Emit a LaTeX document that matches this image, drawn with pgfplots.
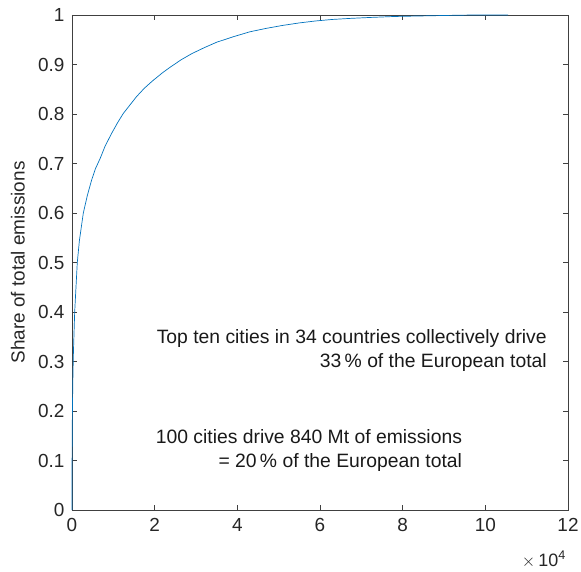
\documentclass[border=0pt]{standalone}
\usepackage{pgfplots}
\pgfplotsset{compat=1.18}
\usepackage{fontspec}
\setmainfont{Liberation Sans}
\definecolor{mblue}{rgb}{0,0.447,0.741}
\definecolor{axgray}{rgb}{0.25,0.25,0.25}
\begin{document}
\fontsize{19.4}{24}\selectfont
\begin{tikzpicture}
\begin{axis}[
  name=ax,
  scale only axis,
  width=496bp, height=495bp,
  xmin=0, xmax=120000, ymin=0, ymax=1,
  scaled x ticks=false, scaled y ticks=false,
  xtick={0,20000,40000,60000,80000,100000,120000},
  xticklabels={0,2,4,6,8,10,12},
  ytick={0,0.1,0.2,0.3,0.4,0.5,0.6,0.7,0.8,0.9,1},
  yticklabels={0,0.1,0.2,0.3,0.4,0.5,0.6,0.7,0.8,0.9,1},
  tick align=inside,
  major tick length=5bp,
  axis line style={axgray, line width=0.6pt},
  every tick/.style={axgray, line width=0.6pt},
  tick label style={font=\fontsize{19}{22}\selectfont, text=black!85},
  xticklabel style={yshift=-2bp},
  yticklabel style={xshift=-1bp},
  ylabel={Share of total emissions},
  every axis y label/.style={at={(axis description cs:-0.109,0.5)}, rotate=90, anchor=center, font=\fontsize{19}{22}\selectfont, text=black!85},
  clip=false,
]
\addplot[mblue, line width=0.7pt] coordinates {
(0,0) (10,0.07) (30,0.12) (100,0.20) (200,0.26) (350,0.32) (500,0.36) (650,0.40) (900,0.44) (1280,0.50) (1800,0.545) (2740,0.60) (3700,0.635) (4760,0.667) (5700,0.69) (6800,0.71) (8000,0.735) (9600,0.761) (11000,0.782) (12400,0.801) (14000,0.818) (15600,0.835) (17500,0.852) (19500,0.867) (22000,0.884) (24000,0.896) (26500,0.910) (29000,0.922) (32000,0.934) (35000,0.945) (39000,0.956) (43000,0.966) (47000,0.973) (51000,0.979) (55000,0.984) (59000,0.988) (63000,0.991) (67000,0.993) (72000,0.995) (78000,0.997) (84000,0.998) (90000,0.999) (97000,1.0) (105500,1.0)
};
\node[anchor=east, align=right, inner sep=0pt, text=black!90] at (axis cs:114900,0.323) {Top ten cities in 34 countries collectively drive\\33\,\% of the European total};
\node[anchor=east, align=right, inner sep=0pt, text=black!90] at (axis cs:94400,0.121) {100 cities drive 840 Mt of emissions\\= 20\,\% of the European total};
\node[anchor=base east, inner sep=0pt, text=black!85, font=\fontsize{18}{20}\selectfont] at ([xshift=-2bp,yshift=-56bp]rel axis cs:1,0) {$\times$\,10\textsuperscript{4}};
\end{axis}
\pgfresetboundingbox
\path[use as bounding box] ([shift={(-72bp,-62bp)}]ax.south west) rectangle ([shift={(13bp,15bp)}]ax.north east);
\end{tikzpicture}
\end{document}
